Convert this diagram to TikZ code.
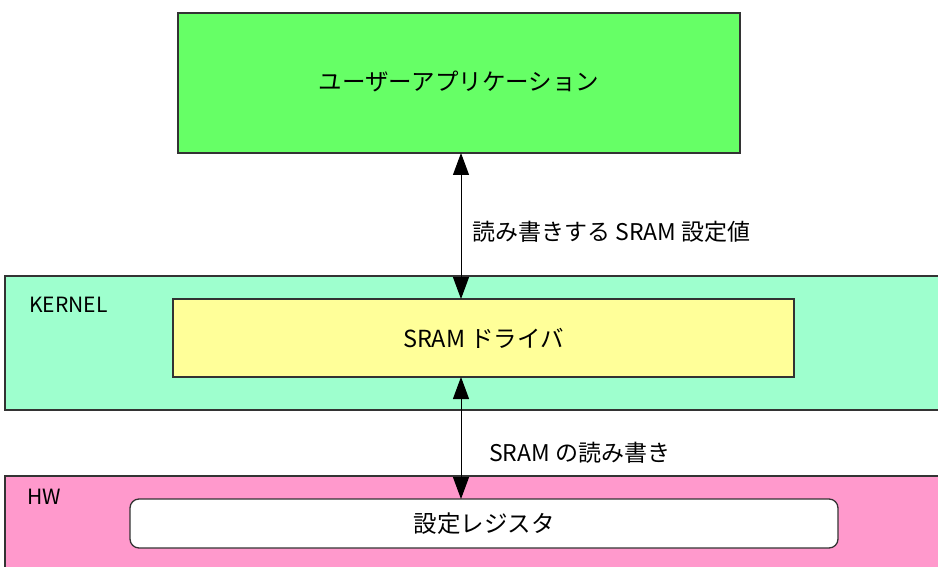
\documentclass[tikz,border=0pt]{standalone}
\usepackage{fontspec}
\setmainfont{Noto Sans CJK JP}
\usetikzlibrary{arrows.meta}
\definecolor{appgreen}{HTML}{66FF66}
\definecolor{kernelc}{HTML}{9EFFCE}
\definecolor{drvyellow}{HTML}{FFFF99}
\definecolor{hwpink}{HTML}{FF99CC}
\definecolor{edge}{HTML}{333333}
\tikzset{
  box/.style={draw=edge, line width=1.3pt, inner sep=0pt, outer sep=0pt, anchor=north west, font=\fontsize{23.5}{28}\selectfont},
  lbl/.style={inner sep=0pt, anchor=west, font=\fontsize{23}{28}\selectfont},
  tag/.style={inner sep=0pt, anchor=west, font=\fontsize{21}{25}\selectfont},
  biarrow/.style={draw=black, line width=1pt, {Triangle[length=22pt,width=16pt]}-{Triangle[length=22pt,width=16pt]}}
}
\begin{document}
\begin{tikzpicture}[x=1pt,y=-1pt]
\useasboundingbox (0,0) rectangle (938,567);
\fill[white] (0,0) rectangle (938,567);
\begin{scope}
\clip (0,0) rectangle (938,567);
\node[box, fill=appgreen, minimum width=562pt, minimum height=140pt] (app) at (178,13) {\raisebox{5pt}{ユーザーアプリケーション}};
\node[box, fill=kernelc, minimum width=950pt, minimum height=134pt] (kernel) at (5,276) {};
\node[box, fill=drvyellow, minimum width=621pt, minimum height=78pt] (drv) at (173,299) {SRAM ドライバ};
\node[box, fill=hwpink, minimum width=950pt, minimum height=110pt] (hw) at (5,476) {};
\node[box, fill=white, rounded corners=9pt, minimum width=708pt, minimum height=49pt] (reg) at (130,499) {\raisebox{2pt}{設定レジスタ}};
\end{scope}
\node[tag] (kl) at (29,305) {KERNEL};
\node[tag] (hl) at (27,497) {HW};
\coordinate (ax) at (461,0);
\draw[biarrow] (app.south -| ax) -- (drv.north -| ax);
\draw[biarrow] (drv.south -| ax) -- (reg.north -| ax);
\node[lbl] (l1) at (472,232) {読み書きする SRAM 設定値};
\node[lbl] (l2) at (489,453) {SRAM の読み書き};
\end{tikzpicture}
\end{document}
